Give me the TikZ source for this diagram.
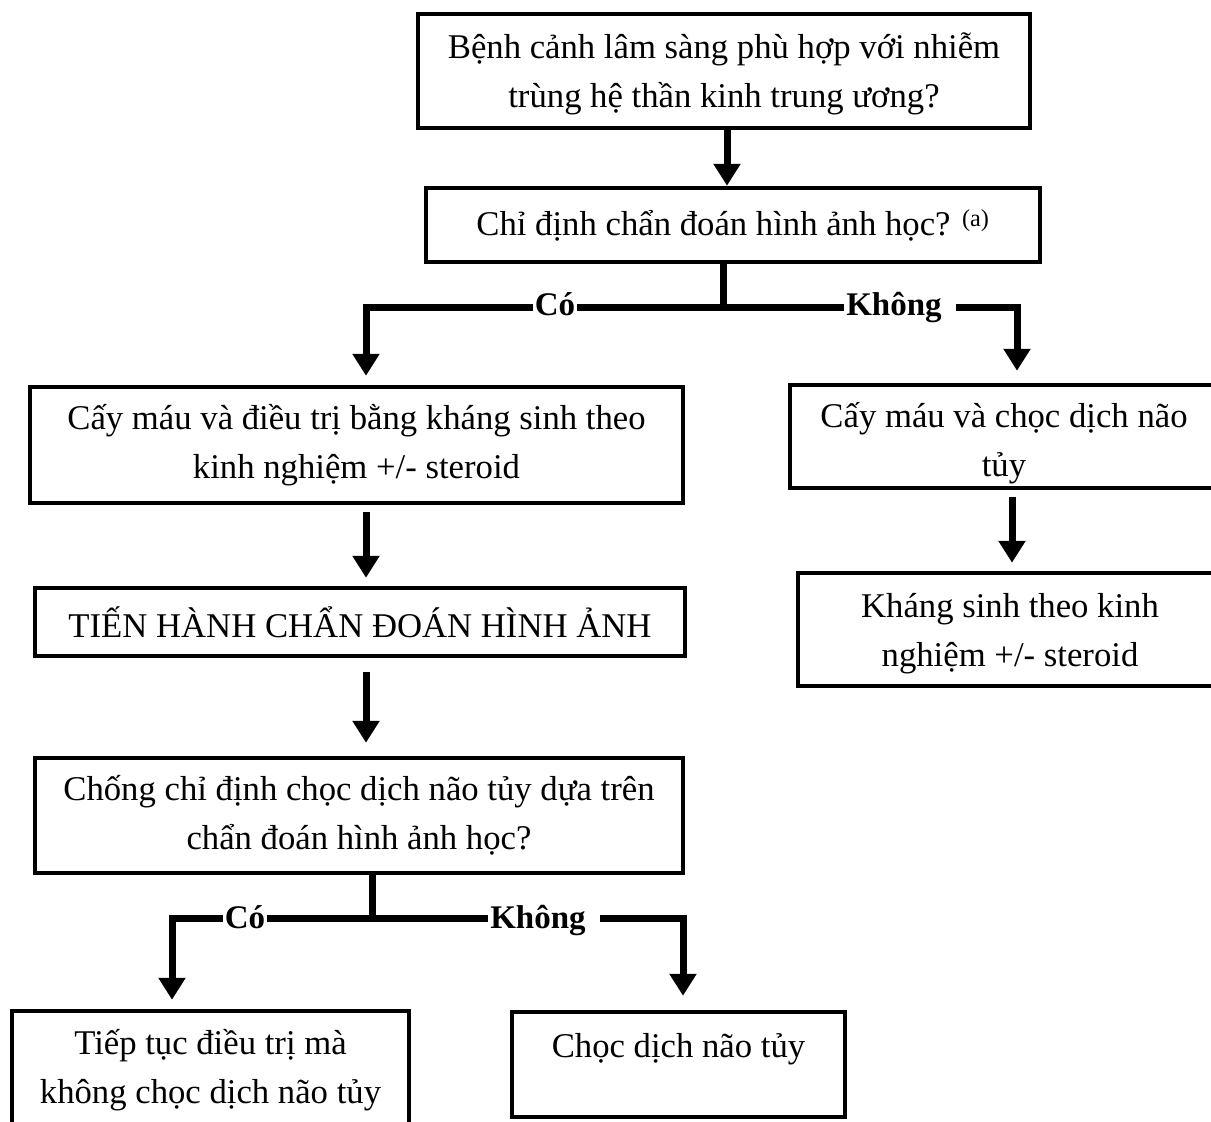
\documentclass[tikz,border=0pt]{standalone}
\usepackage{fontspec}
\setmainfont{Liberation Serif}
\usetikzlibrary{arrows.meta,shadows}
\begin{document}
\begin{tikzpicture}[x=1pt,y=-1pt,
  box/.style={draw,line width=4.5pt,fill=white,align=center,inner sep=0pt,
    font=\fontsize{34.7}{49}\selectfont,
    drop shadow={shadow xshift=2pt,shadow yshift=-2pt,opacity=.25}},
  boxtext/.style={align=center,inner sep=0pt,font=\fontsize{34.7}{49}\selectfont},
  link/.style={line width=7pt,line join=miter},
  flow/.style={link,-{Triangle[width=26pt,length=22pt]}},
  lbl/.style={fill=white,inner sep=2pt,anchor=base,font=\fontsize{33}{40}\selectfont\bfseries}]
\useasboundingbox (0,0) rectangle (1211,1122);

% boxes
\node[box,minimum width=612pt,minimum height=114pt] (q1) at (724,71) {};
\node[boxtext] (q1t) at ([yshift=-3pt]q1.center)
  {Bệnh cảnh lâm sàng phù hợp với nhiễm\\trùng hệ thần kinh trung ương?};
\node[box,minimum width=614pt,minimum height=74pt] (q2) at (733,225)
  {Chỉ định chẩn đoán hình ảnh học? \textsuperscript{(a)}};
\node[box,minimum width=653pt,minimum height=116pt] (cult) at (356.5,445)
  {Cấy máu và điều trị bằng kháng sinh theo\\kinh nghiệm +/- steroid};
\node[box,minimum width=428pt,minimum height=103pt] (lp1) at (1004,436.5) {};
\node[boxtext] (lp1t) at ([yshift=-7pt]lp1.center) {Cấy máu và chọc dịch não\\tủy};
\node[box,minimum width=424pt,minimum height=113pt] (abx) at (1010,629.5) {};
\node[boxtext] (abxt) at ([yshift=-4pt]abx.center) {Kháng sinh theo kinh\\nghiệm +/- steroid};
\node[box,minimum width=650pt,minimum height=68pt] (img) at (360,622)
  {TIẾN HÀNH CHẨN ĐOÁN HÌNH ẢNH};
\node[box,minimum width=648pt,minimum height=115pt] (ci) at (359,815.5)
  {Chống chỉ định chọc dịch não tủy dựa trên\\chẩn đoán hình ảnh học?};
\node[box,minimum width=397pt,minimum height=118pt] (cont) at (210.5,1070)
  {Tiếp tục điều trị mà\\không chọc dịch não tủy};
\node[box,minimum width=333pt,minimum height=105pt] (lp2) at (678.5,1064.5) {};
\node[boxtext] (lp2t) at ([yshift=15pt]lp2.center) {Chọc dịch não tủy};

% branch points
\coordinate (j1) at (723,307);
\coordinate (l1) at (366,307);
\coordinate (r1) at (1017,307);
\coordinate (j2) at (372,918);
\coordinate (l2) at (172,918);
\coordinate (r2) at (683,918);

% connectors
\draw[flow] ([xshift=3pt]q1.south) -- ([xshift=3pt]q1.south |- q2.north);
\draw[link] ([xshift=-10pt]q2.south) -- (j1);
\draw[flow,shorten >=9pt] (j1) -| (cult.north -| l1);
\draw[flow,shorten >=12pt] (j1) -| (lp1.north -| r1);
\draw[flow,shorten >=8pt,shorten <=7pt] ([xshift=9.5pt]cult.south) -- ([xshift=9.5pt]cult.south |- img.north);
\draw[flow,shorten >=8pt,shorten <=7pt] ([xshift=8pt]lp1.south) -- ([xshift=8pt]lp1.south |- abx.north);
\draw[flow,shorten >=13pt,shorten <=14pt] ([xshift=6pt]img.south) -- ([xshift=6pt]img.south |- ci.north);
\draw[link] ([xshift=13pt]ci.south) -- (j2);
\draw[flow,shorten >=9pt] (j2) -| (cont.north -| l2);
\draw[flow,shorten >=14pt] (j2) -| (lp2.north -| r2);

% branch labels
\node[lbl] (yes1) at (555,315) {Có};
\node[lbl] (no1) at (900,315) {Không\hspace*{12pt}};
\node[lbl] (yes2) at (245,928) {Có};
\node[lbl] (no2) at (544,928) {Không\hspace*{12pt}};
\end{tikzpicture}
\end{document}
